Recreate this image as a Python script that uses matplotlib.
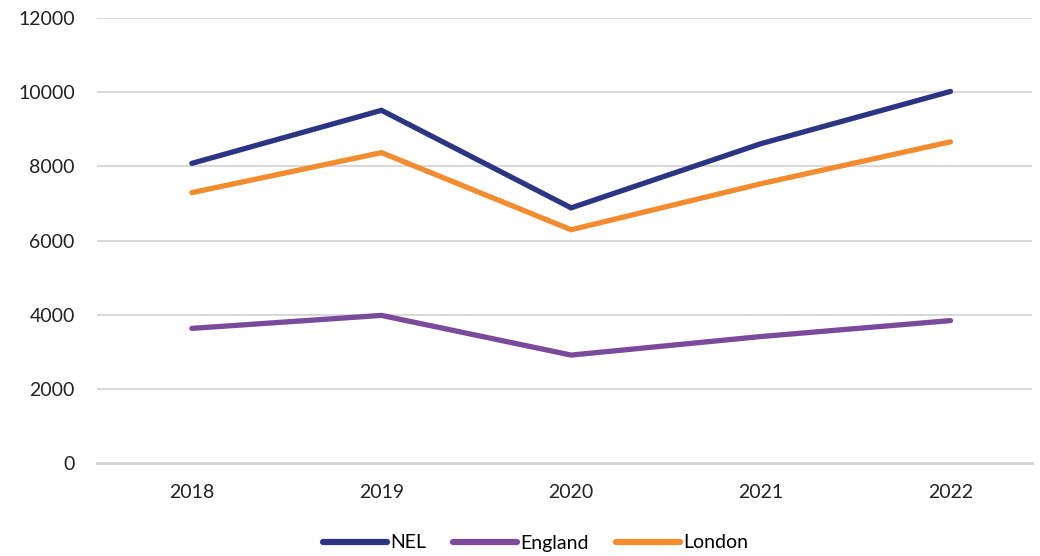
import matplotlib
matplotlib.use("Agg")
import matplotlib.pyplot as plt

years = ["2018", "2019", "2020", "2021", "2022"]
nel = [8080, 9510, 6880, 8610, 10020]
england = [3630, 3980, 2910, 3410, 3840]
london = [7290, 8370, 6290, 7530, 8660]

colors = {"NEL": "#2B3584", "England": "#7B4A9C", "London": "#F28C2E"}

plt.rcParams["font.family"] = ["Lato", "DejaVu Sans"]

fig = plt.figure(figsize=(10.4, 5.56), dpi=100)
ax = fig.add_axes([97 / 1040, 1 - 463 / 556, (1032 - 97) / 1040, (463 - 18) / 556])

x = range(len(years))
for name, vals in (("NEL", nel), ("England", england), ("London", london)):
    ax.plot(x, vals, color=colors[name], lw=3.8, solid_capstyle="round",
            solid_joinstyle="miter", label=name, zorder=3)

ax.set_xlim(-0.5, 4.43)
ax.set_ylim(0, 12000)
ax.set_yticks(range(0, 12001, 2000))
ax.set_yticklabels([str(v) for v in range(0, 12001, 2000)])
ax.set_xticks(list(x))
ax.set_xticklabels(years)

ax.grid(axis="y", color="#D9D9D9", lw=1.5, zorder=0)
for s in ("top", "right", "left", "bottom"):
    ax.spines[s].set_visible(False)
ax.axhline(0, color="#D0D0D0", lw=2, zorder=1, clip_on=False)
ax.tick_params(axis="both", length=0, labelsize=14, colors="#222222")
ax.tick_params(axis="y", pad=16)
ax.tick_params(axis="x", pad=15)

leg = fig.legend(loc="center", bbox_to_anchor=(0.515, 1 - 543 / 556), ncol=3,
                 frameon=False, fontsize=14, handlelength=3.3, handletextpad=0.15,
                 columnspacing=1.4)
for h in leg.get_lines():
    h.set_linewidth(4.5)
    h.set_solid_capstyle("round")

fig.savefig("out.png", dpi=100)
